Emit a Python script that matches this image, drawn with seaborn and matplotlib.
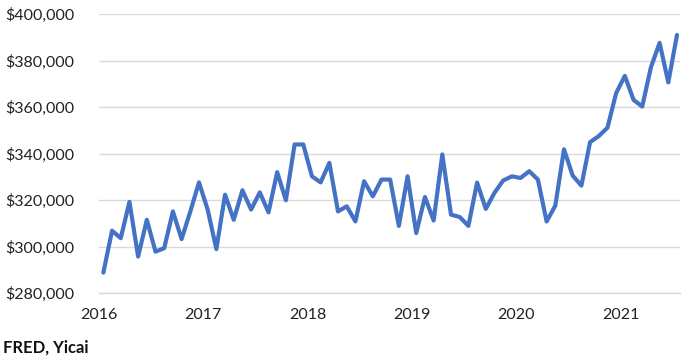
import numpy as np
import pandas as pd
import matplotlib
matplotlib.use("Agg")
import matplotlib.pyplot as plt
import seaborn as sns
from matplotlib.ticker import FuncFormatter, MultipleLocator

# Median sales price, monthly, Jan 2016 - Jul 2021
years = [2016] * 12 + [2017] * 12 + [2018] * 12 + [2019] * 12 + [2020] * 12 + [2021] * 7
months = list(range(1, 13)) * 5 + list(range(1, 8))
price = [
    288800, 306800, 303600, 319200, 295700, 311500, 297800, 299300, 315100, 303200, 315000, 327600,
    315900, 298900, 322300, 311500, 324200, 315900, 323300, 314700, 332000, 319900, 343900, 343900,
    330200, 327600, 336000, 315100, 317300, 310800, 328100, 321600, 328800, 328800, 308900, 330200,
    305800, 321300, 311200, 339600, 313700, 312700, 308900, 327500, 316200, 323100, 328400, 330200,
    329500, 332400, 328800, 310800, 317600, 341800, 330500, 326200, 344900, 347500, 351100, 366000,
    373400, 363100, 360200, 377100, 387600, 370600, 391000,
]
source = "FRED, Yicai"

df = pd.DataFrame({"year": years, "month": months, "price": price})
df["t"] = df["year"] + (df["month"] - 0.5) / 12

sns.set_style("white")
plt.rcParams["font.family"] = ["Lato", "DejaVu Sans"]

fig = plt.figure(figsize=(6.91, 3.60), dpi=100)
ax = fig.add_axes([0.1433, 0.186, 0.8407, 0.775])

sns.lineplot(data=df, x="t", y="price", ax=ax, color="#4472C4", linewidth=3.0)

ax.set_xlim(2016.0, 2021.57)
ax.set_ylim(280000, 400000)
ax.yaxis.set_major_locator(MultipleLocator(20000))
ax.yaxis.set_major_formatter(FuncFormatter(lambda v, p: f"${v:,.0f}"))
ax.xaxis.set_major_locator(MultipleLocator(1))
ax.xaxis.set_minor_locator(MultipleLocator(0.5))
ax.xaxis.set_major_formatter(FuncFormatter(lambda v, p: f"{int(round(v))}"))

ax.grid(axis="y", color="#d9d9d9", linewidth=1)
ax.set_axisbelow(True)
for s in ["top", "right", "left"]:
    ax.spines[s].set_visible(False)
ax.spines["bottom"].set_color("#d9d9d9")
ax.spines["bottom"].set_linewidth(1)

ax.tick_params(axis="y", length=0, pad=18, labelsize=11.5, labelcolor="#222222")
ax.tick_params(axis="x", which="both", direction="inout", length=8, width=1,
               color="#d9d9d9", labelsize=11.5, labelcolor="#222222", pad=7)
ax.set_xlabel("")
ax.set_ylabel("")

fig.text(0.004, 0.035, source, fontsize=12, fontweight="bold", color="#111111", ha="left", va="center")

fig.savefig("out.png", dpi=100)
